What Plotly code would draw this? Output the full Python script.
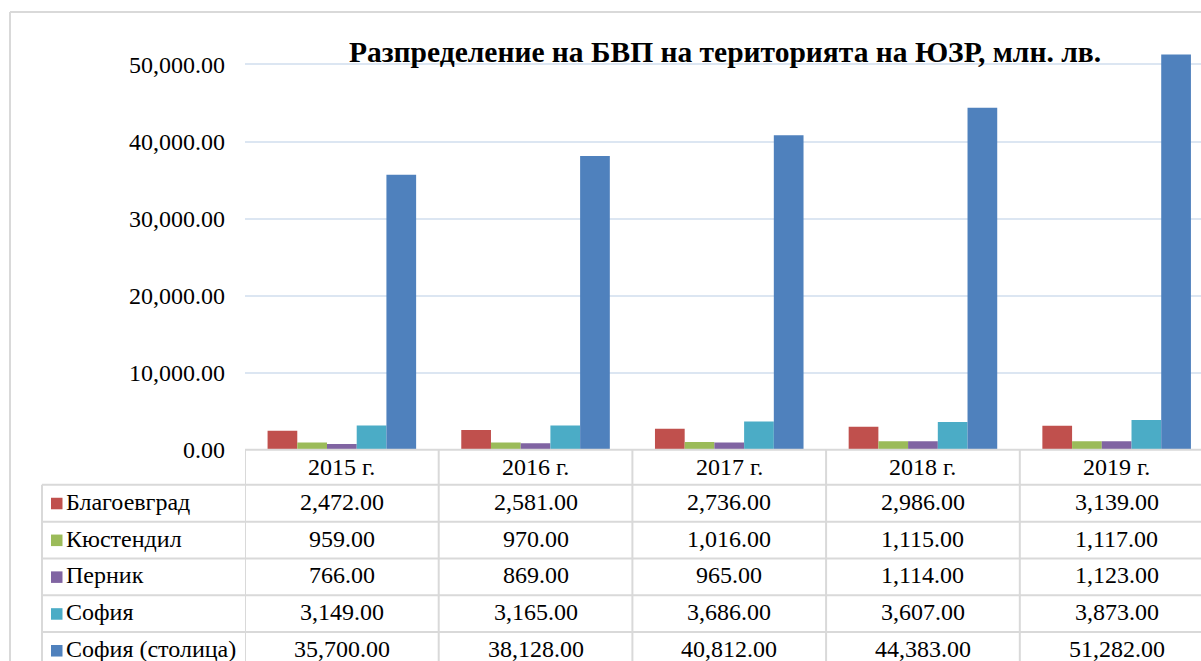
import plotly.graph_objects as go

# ---- data ----
years = ["2015 г.", "2016 г.", "2017 г.", "2018 г.", "2019 г."]
series_names = ["Благоевград", "Кюстендил", "Перник", "София", "София (столица)"]
blagoevgrad = [2472, 2581, 2736, 2986, 3139]
kyustendil = [959, 970, 1016, 1115, 1117]
pernik = [766, 869, 965, 1114, 1123]
sofia = [3149, 3165, 3686, 3607, 3873]
sofia_capital = [35700, 38128, 40812, 44383, 51282]
series_values = [blagoevgrad, kyustendil, pernik, sofia, sofia_capital]
colors = ["#C0504D", "#9BBB59", "#8064A2", "#4BACC6", "#4F81BD"]
y_ticks = [0, 10000, 20000, 30000, 40000, 50000]
title = "Разпределение на БВП на територията на ЮЗР, млн. лв."

W = 1201
REF_H = 661      # design coordinates (reference pixels)
H = 676          # layout height (the page is photographed slightly squeezed)


def px(x):
    return x / W


def py(y):
    return 1 - y / REF_H


FONT = "Liberation Serif"
GRID = "#D9D9D9"

x_left = 245
cat_w = 193.7
y_zero = 448.5
y_top = 20
px_per_unit = (448.5 - 64.3) / 50000.0
y_max = (y_zero - y_top) / px_per_unit
x_max = -0.5 + (W - x_left) / cat_w

fig = go.Figure()
for name, vals, c in zip(series_names, series_values, colors):
    fig.add_trace(go.Bar(x=list(range(len(years))), y=vals, name=name,
                         marker=dict(color=c, line=dict(width=0))))

shapes = []
annotations = []

# chart outer border
shapes.append(dict(type="line", xref="paper", yref="paper",
                   x0=px(10), x1=px(W + 5), y0=py(12), y1=py(12),
                   line=dict(color=GRID, width=2)))
shapes.append(dict(type="line", xref="paper", yref="paper",
                   x0=px(10), x1=px(10), y0=py(12), y1=-0.05,
                   line=dict(color=GRID, width=2)))

header_bottom = 483.4
row_h = 36.7
label_left = 42

# table grid
shapes.append(dict(type="line", xref="paper", yref="paper",
                   x0=px(x_left), x1=px(W + 5), y0=py(y_zero), y1=py(y_zero),
                   line=dict(color=GRID, width=2)))
for i in range(len(series_names)):
    yy = header_bottom + i * row_h
    shapes.append(dict(type="line", xref="paper", yref="paper",
                       x0=px(label_left), x1=px(W + 5), y0=py(yy), y1=py(yy),
                       line=dict(color=GRID, width=2)))
for k in range(len(years)):
    shapes.append(dict(type="line", xref="x", yref="paper",
                       x0=k - 0.5, x1=k - 0.5, y0=py(y_zero), y1=-0.05,
                       line=dict(color=GRID, width=2)))
shapes.append(dict(type="line", xref="paper", yref="paper",
                   x0=px(label_left), x1=px(label_left), y0=py(header_bottom), y1=-0.05,
                   line=dict(color=GRID, width=2)))

TFS = 24
# header labels
for k, yr in enumerate(years):
    annotations.append(dict(xref="x", yref="paper", x=k, y=py((y_zero + header_bottom) / 2),
                            text=yr, showarrow=False, xanchor="center", yanchor="middle",
                            font=dict(family=FONT, size=TFS, color="#000000")))

# rows
for i, (name, vals, c) in enumerate(zip(series_names, series_values, colors)):
    yc = header_bottom + (i + 0.5) * row_h
    ty = yc - 1.5
    shapes.append(dict(type="rect", xref="paper", yref="paper",
                       x0=px(51), x1=px(62.5), y0=py(yc - 5.5), y1=py(yc + 6),
                       line=dict(width=0), fillcolor=c))
    annotations.append(dict(xref="paper", yref="paper", x=px(64), y=py(ty),
                            text=name, showarrow=False, xanchor="left", yanchor="middle",
                            font=dict(family=FONT, size=TFS, color="#000000")))
    for k, v in enumerate(vals):
        annotations.append(dict(xref="x", yref="paper", x=k, y=py(ty),
                                text=f"{v:,.2f}", showarrow=False,
                                xanchor="center", yanchor="middle",
                                font=dict(family=FONT, size=TFS, color="#000000")))

# title
annotations.append(dict(xref="paper", yref="paper", x=px(725), y=py(52),
                        text="<b>" + title + "</b>", showarrow=False,
                        xanchor="center", yanchor="middle",
                        font=dict(family=FONT, size=29.5, color="#000000")))

fig.update_layout(
    width=W, height=H,
    margin=dict(l=0, r=0, t=0, b=0),
    paper_bgcolor="white", plot_bgcolor="white",
    showlegend=False,
    barmode="group", bargap=0.233, bargroupgap=0,
    shapes=shapes, annotations=annotations,
    xaxis=dict(domain=[px(x_left), 1], range=[-0.5, x_max],
               showticklabels=False, showgrid=False, zeroline=False,
               showline=False, ticks=""),
    yaxis=dict(domain=[py(y_zero), py(y_top)], range=[0, y_max],
               tickvals=y_ticks, tickformat=",.2f",
               showgrid=True, gridcolor="#DCE6F2", gridwidth=1.5,
               zeroline=False, showline=False, ticks="",
               ticklabelstandoff=19,
               tickfont=dict(family=FONT, size=24, color="#000000")),
)

fig.write_html("out.html", config={"displayModeBar": False},
               post_script="document.body.style.margin='0';")
